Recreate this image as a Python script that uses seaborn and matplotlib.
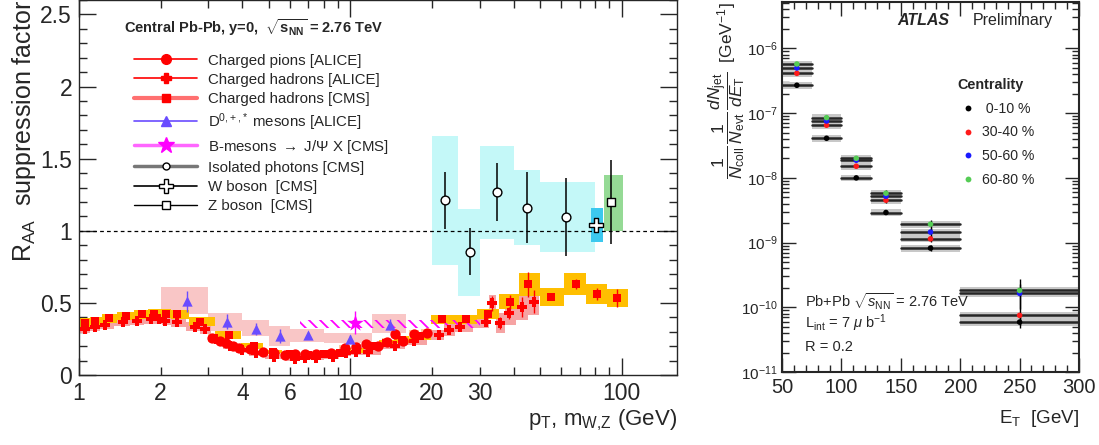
import numpy as np
import pandas as pd
import matplotlib
matplotlib.use("Agg")
import matplotlib.pyplot as plt
from matplotlib.lines import Line2D
from matplotlib.ticker import FixedLocator, FuncFormatter, MultipleLocator, LogLocator, NullFormatter
import seaborn as sns

# ---------------- left panel data (R_AA vs pT) ----------------
pion_pt = [3.09, 3.30, 3.47, 3.69, 3.90, 4.26, 4.76, 5.25, 5.76, 6.25, 6.79, 7.5, 8.5,
           9.55, 10.5, 11.45, 12.6, 13.6, 14.6, 15.6, 17.1, 19.1]
pion_raa = [0.258, 0.237, 0.219, 0.201, 0.185, 0.178, 0.157, 0.150, 0.141, 0.143, 0.148, 0.148, 0.150,
            0.187, 0.192, 0.217, 0.201, 0.231, 0.284, 0.236, 0.282, 0.289]

alice_pt = [1.05, 1.15, 1.25, 1.45, 1.64, 1.85, 1.97, 2.08, 2.29, 2.68, 2.92, 3.2, 3.6, 4.0, 4.5,
            5.25, 6.27, 6.8, 7.5, 8.6, 9.6, 10.5, 11.6, 14.6, 17.2, 21.2, 23.2, 25.3, 31.5, 33.4,
            35.5, 38.6, 43.1, 47.4]
alice_raa = [0.319, 0.335, 0.346, 0.367, 0.374, 0.386, 0.386, 0.376, 0.365, 0.335, 0.316, 0.25, 0.20,
             0.17, 0.15, 0.123, 0.113, 0.12, 0.12, 0.125, 0.15, 0.16, 0.161, 0.203, 0.236, 0.275,
             0.312, 0.335, 0.369, 0.497, 0.362, 0.43, 0.473, 0.508]
alice_sys = [0.03, 0.03, 0.03, 0.03, 0.03, 0.03, 0.03, 0.03, 0.03, 0.03, 0.03, 0.025, 0.02, 0.02,
             0.02, 0.015, 0.015, 0.015, 0.015, 0.015, 0.02, 0.02, 0.02, 0.025, 0.03, 0.035, 0.04,
             0.04, 0.045, 0.06, 0.07, 0.08, 0.09, 0.09]
alice_err = [0, 0, 0, 0, 0, 0, 0, 0, 0, 0, 0, 0, 0, 0, 0, 0, 0, 0, 0, 0, 0, 0, 0.01, 0.015, 0.015,
             0.02, 0.02, 0.02, 0.03, 0.05, 0.04, 0.04, 0.07, 0.08]

cms_pt = [1.05, 1.15, 1.29, 1.49, 1.70, 1.89, 2.09, 2.30, 2.80, 3.57, 4.4, 5.2, 6.0, 7.0, 8.0, 9.2,
          10.5, 12.0, 13.5, 15.5, 18.0, 21.8, 26.6, 32.2, 38.7, 45.2, 55.0, 68.0, 81.0, 96.4]
cms_raa = [0.362, 0.374, 0.393, 0.409, 0.420, 0.425, 0.425, 0.420, 0.370, 0.277, 0.20, 0.16, 0.145,
           0.14, 0.145, 0.155, 0.17, 0.20, 0.22, 0.245, 0.27, 0.386, 0.386, 0.423, 0.508, 0.629,
           0.541, 0.629, 0.561, 0.534]
cms_sys = [0.03, 0.03, 0.03, 0.03, 0.03, 0.03, 0.03, 0.03, 0.03, 0.025, 0.02, 0.015, 0.015, 0.015,
           0.015, 0.015, 0.02, 0.02, 0.02, 0.025, 0.025, 0.03, 0.03, 0.035, 0.052, 0.078, 0.061,
           0.075, 0.069, 0.064]
cms_err = [0, 0, 0, 0, 0, 0, 0, 0, 0, 0, 0, 0, 0, 0, 0, 0, 0, 0, 0, 0, 0, 0.015, 0.02, 0.03, 0.05,
           0.087, 0.02, 0.035, 0.04, 0.065]

d_pt = [2.5, 3.5, 4.5, 5.5, 7.0, 10.0, 14.0]
d_edges = [2, 3, 4, 5, 6, 8, 12, 16]
d_raa = [0.51, 0.37, 0.32, 0.27, 0.28, 0.25, 0.35]
d_err = [0.07, 0.05, 0.04, 0.05, 0.02, 0.03, 0.04]
d_sys_lo = [0.42, 0.305, 0.27, 0.20, 0.23, 0.22, 0.29]
d_sys_hi = [0.61, 0.43, 0.38, 0.34, 0.32, 0.29, 0.42]

b_pt = [10.4]
b_raa = [0.362]
b_err = [0.08]
b_band = [6.5, 30.0, 0.324, 0.381]

gam_pt = [22.4, 27.5, 34.7, 44.9, 62.5]
gam_edges = [20, 25, 30, 40, 50, 80]
gam_raa = [1.21, 0.855, 1.27, 1.16, 1.095]
gam_err = [0.20, 0.165, 0.20, 0.245, 0.27]
gam_sys_lo = [0.76, 0.55, 0.945, 0.90, 0.85]
gam_sys_hi = [1.66, 1.15, 1.59, 1.42, 1.34]

w_m, w_raa, w_err, w_box = 80.4, 1.04, 0.05, [77.0, 85.5, 0.92, 1.16]
z_m, z_raa, z_err, z_box = 91.2, 1.20, 0.29, [86.0, 101.0, 1.0, 1.39]

# ---------------- right panel data (ATLAS jet yields) ----------------
et_lo = [50, 75, 100, 125, 150, 200]
et_hi = [75, 100, 125, 150, 200, 300]
et_mid = [62.5, 87.5, 112.5, 137.5, 175, 250]
cent_labels = ["0-10 %", "30-40 %", "50-60 %", "60-80 %"]
yield_0_10 = [2.69e-7, 4.08e-8, 9.97e-9, 2.91e-9, 8.2e-10, 5.9e-11]
yield_30_40 = [4.11e-7, 6.49e-8, 1.51e-8, 4.51e-9, 1.14e-9, 7.5e-11]
yield_50_60 = [4.97e-7, 7.55e-8, 1.87e-8, 5.2e-9, 1.45e-9, 1.64e-10]
yield_60_80 = [5.73e-7, 8.5e-8, 2.0e-8, 5.78e-9, 1.92e-9, 1.82e-10]
relerr_0_10 = [0.02, 0.03, 0.04, 0.06, 0.1, 0.18]
relerr_30_40 = [0.02, 0.04, 0.05, 0.08, 0.12, 0.3]
relerr_50_60 = [0.03, 0.05, 0.07, 0.1, 0.15, 0.4]
relerr_60_80 = [0.03, 0.05, 0.08, 0.12, 0.18, 0.48]
cent_colors = {"0-10 %": "black", "30-40 %": "#ff1a1a", "50-60 %": "#1a1aff", "60-80 %": "#55cc55"}

# ---------------- style ----------------
sns.set_style("ticks")
plt.rcParams['font.family'] = ['Liberation Sans', 'DejaVu Sans']
plt.rcParams['mathtext.fontset'] = 'custom'
plt.rcParams['mathtext.rm'] = 'Liberation Sans'
plt.rcParams['mathtext.it'] = 'Liberation Sans:italic'
plt.rcParams['mathtext.bf'] = 'Liberation Sans:bold'
plt.rcParams['mathtext.sf'] = 'Liberation Sans'
plt.rcParams['hatch.linewidth'] = 1.3


def log_edges(pt, shrink=1.0):
    lp = np.log10(pt)
    mid = (lp[1:] + lp[:-1]) / 2
    lo = np.concatenate([[lp[0] - (mid[0] - lp[0])], mid])
    hi = np.concatenate([mid, [lp[-1] + (lp[-1] - mid[-1])]])
    c = (lo + hi) / 2
    return 10 ** (c - (c - lo) * shrink), 10 ** (c + (hi - c) * shrink)


def boxes(ax, lo, hi, ylo, yhi, color, **kw):
    lo, hi, ylo, yhi = map(np.asarray, (lo, hi, ylo, yhi))
    ax.bar(lo, yhi - ylo, width=hi - lo, bottom=ylo, align='edge', color=color, lw=0, **kw)


fig = plt.figure(figsize=(10.99, 4.45), dpi=100)
ax = fig.add_axes([79 / 1099, 70 / 445, 598 / 1099, 375 / 445])
ax2 = fig.add_axes([782 / 1099, 73 / 445, 297 / 1099, 370 / 445])

# ======== left panel ========
ax.set_xscale('log')
ax.set_xlim(1, 160)
ax.set_ylim(0, 2.6)

# systematic boxes
boxes(ax, d_edges[:-1], d_edges[1:], d_sys_lo, d_sys_hi, '#f9c6c6', zorder=1)
lo, hi = log_edges(alice_pt)
boxes(ax, lo, hi, np.array(alice_raa) - alice_sys, np.array(alice_raa) + alice_sys, '#f6a3a3', zorder=1.2)
lo, hi = log_edges(cms_pt)
boxes(ax, lo, hi, np.array(cms_raa) - cms_sys, np.array(cms_raa) + cms_sys, '#ffbf00', zorder=1.4)
lo, hi = log_edges(pion_pt, 0.9)
boxes(ax, lo, hi, np.array(pion_raa) * 0.9, np.array(pion_raa) * 1.1, '#ffc8a0', zorder=1.6)
ax.bar(b_band[0], b_band[3] - b_band[2], width=b_band[1] - b_band[0], bottom=b_band[2], align='edge',
       fill=False, hatch='\\\\\\', edgecolor='#ff00ff', lw=0, zorder=1.7)
boxes(ax, gam_edges[:-1], gam_edges[1:], gam_sys_lo, gam_sys_hi, '#c4f8f8', zorder=1.8)
boxes(ax, [w_box[0]], [w_box[1]], [w_box[2]], [w_box[3]], '#3cc8ee', zorder=1.9)
boxes(ax, [z_box[0]], [z_box[1]], [z_box[2]], [z_box[3]], '#95da95', zorder=1.9)

ax.axhline(1, color='black', ls=(0, (3, 2.5)), lw=0.9, zorder=2)

# error bars
ax.errorbar(alice_pt, alice_raa, yerr=alice_err, fmt='none', ecolor='red', elinewidth=1, zorder=3)
ax.errorbar(cms_pt, cms_raa, yerr=cms_err, fmt='none', ecolor='red', elinewidth=1, zorder=3)
ax.errorbar(d_pt, d_raa, yerr=d_err, fmt='none', ecolor='#6a4cff', elinewidth=1, zorder=3)
ax.errorbar(b_pt, b_raa, yerr=b_err, fmt='none', ecolor='#ff00ff', elinewidth=1, zorder=3)
ax.errorbar(gam_pt, gam_raa, yerr=gam_err, fmt='none', ecolor='black', elinewidth=1.1, zorder=3)
ax.errorbar([w_m], [w_raa], yerr=[w_err], fmt='none', ecolor='black', elinewidth=1.1, zorder=3)
ax.errorbar([z_m], [z_raa], yerr=[z_err], fmt='none', ecolor='black', elinewidth=1.1, zorder=3)

# markers
sns.scatterplot(x=alice_pt, y=alice_raa, marker='P', s=45, color='red', edgecolor='red', lw=0, ax=ax, zorder=4)
sns.scatterplot(x=cms_pt, y=cms_raa, marker='s', s=36, color='red', edgecolor='red', lw=0, ax=ax, zorder=4)
sns.scatterplot(x=pion_pt, y=pion_raa, marker='o', s=55, color='red', edgecolor='red', lw=0, ax=ax, zorder=5)
sns.scatterplot(x=d_pt, y=d_raa, marker='^', s=55, color='#6a4cff', edgecolor='#6a4cff', lw=0, ax=ax, zorder=5)
sns.scatterplot(x=b_pt, y=b_raa, marker='*', s=160, color='#ff00ff', edgecolor='#ff00ff', lw=0, ax=ax, zorder=5)
sns.scatterplot(x=gam_pt, y=gam_raa, marker='o', s=40, color='white', edgecolor='black', lw=1, ax=ax, zorder=5)
sns.scatterplot(x=[w_m], y=[w_raa], marker='P', s=110, color='white', edgecolor='black', lw=1, ax=ax, zorder=5)
sns.scatterplot(x=[z_m], y=[z_raa], marker='s', s=40, color='white', edgecolor='black', lw=1, ax=ax, zorder=5)

# axes cosmetics
ax.xaxis.set_major_locator(FixedLocator([1, 10, 100]))
ax.xaxis.set_minor_locator(FixedLocator([2, 3, 4, 5, 6, 7, 8, 9, 20, 30, 40, 50, 60, 70, 80, 90]))
ax.xaxis.set_major_formatter(FuncFormatter(lambda v, p: '%g' % v))
ax.xaxis.set_minor_formatter(FuncFormatter(lambda v, p: '%g' % v if v in (2, 4, 6, 20, 30) else ''))
ax.yaxis.set_major_locator(MultipleLocator(0.5))
ax.yaxis.set_minor_locator(MultipleLocator(0.1))
ax.yaxis.set_major_formatter(FuncFormatter(lambda v, p: '%g' % v))
ax.tick_params(which='both', direction='in', top=True, right=True, labelsize=16.5, pad=5)
ax.tick_params(axis='y', which='major', length=12, width=1)
ax.tick_params(axis='y', which='minor', length=6, width=1)
ax.tick_params(axis='x', which='major', length=12, width=1)
ax.tick_params(axis='x', which='minor', length=6, width=1)
for s in ax.spines.values():
    s.set_linewidth(1.0)
ax.set_ylabel(r"R$_{\rm AA}$  suppression factor", fontsize=18, loc='top')
ax.yaxis.set_label_coords(-0.068, 1.0)
ax.set_xlabel(r"p$_{\rm T}$, m$_{\rm W{,}Z}$ (GeV)", fontsize=16, loc='right', labelpad=2)

ax.text(0.075, 0.925, r"Central Pb-Pb, y=0,  $\mathbf{\sqrt{s_{NN}}}$ = 2.76 TeV", transform=ax.transAxes,
        fontsize=10.5, fontweight='bold', va='center', ha='left')

handles = [
    Line2D([], [], color='red', lw=1.2, marker='o', ms=7, mec='red'),
    Line2D([], [], color='red', lw=1.2, marker='P', ms=7, mec='red'),
    Line2D([], [], color='#ff7070', lw=3, marker='s', ms=6, mfc='red', mec='red'),
    Line2D([], [], color='#6a4cff', lw=1.2, marker='^', ms=7, mec='#6a4cff'),
    Line2D([], [], color='#ff66ff', lw=2.5, marker='*', ms=12, mfc='#ff00ff', mec='#ff00ff'),
    Line2D([], [], color='#777777', lw=2.5, marker='o', ms=5, mfc='white', mec='black'),
    Line2D([], [], color='black', lw=1.2, marker='P', ms=10, mfc='white', mec='black'),
    Line2D([], [], color='black', lw=1.0, marker='s', ms=5.5, mfc='white', mec='black'),
]
labels = ["Charged pions [ALICE]", "Charged hadrons [ALICE]", "Charged hadrons [CMS]",
          r"D$^{0{,}+{,}*}$ mesons [ALICE]", r"B-mesons $\rightarrow$ J/$\Psi$ X [CMS]",
          "Isolated photons [CMS]", "W boson  [CMS]", "Z boson  [CMS]"]
ax.legend(handles, labels, loc='upper left', bbox_to_anchor=(0.092, 0.857), frameon=False,
          fontsize=10.8, handlelength=4.2, handletextpad=0.75, labelspacing=0.34,
          borderpad=0, borderaxespad=0, numpoints=1)

# ======== right panel ========
rows = []
for lab, ys, es in zip(cent_labels, [yield_0_10, yield_30_40, yield_50_60, yield_60_80],
                       [relerr_0_10, relerr_30_40, relerr_50_60, relerr_60_80]):
    for lo_, hi_, m_, y_, e_ in zip(et_lo, et_hi, et_mid, ys, es):
        rows.append({'lo': lo_, 'hi': hi_, 'et': m_, 'y': y_, 'err': e_, 'cent': lab})
df = pd.DataFrame(rows)

ax2.set_xlim(50, 300)
ax2.set_yscale('log')
ax2.set_ylim(1e-11, 5.2e-6)
for _, r in df.iterrows():
    ax2.bar(r['lo'], r['y'] * 0.24, width=r['hi'] - r['lo'], bottom=r['y'] * 0.88, align='edge',
            color='#c8c8c8', lw=0, zorder=1)
for _, r in df.iterrows():
    ax2.plot([r['lo'], r['hi']], [r['y'], r['y']], color='#262626', lw=1.8, zorder=2)
ax2.errorbar(df['et'], df['y'], yerr=df['y'] * df['err'], fmt='none', ecolor='black', elinewidth=1, zorder=3)
sns.scatterplot(data=df, x='et', y='y', hue='cent', palette=cent_colors, s=16, edgecolor='none',
                legend=False, ax=ax2, zorder=4)

ax2.xaxis.set_major_locator(MultipleLocator(50))
ax2.xaxis.set_minor_locator(MultipleLocator(10))
ax2.yaxis.set_major_locator(FixedLocator([1e-11, 1e-10, 1e-9, 1e-8, 1e-7, 1e-6]))
ax2.yaxis.set_minor_locator(FixedLocator([m * 10.0 ** e for e in range(-11, -5) for m in range(2, 10)
                                          if m * 10.0 ** e < 5.2e-6]))
ax2.yaxis.set_major_formatter(FuncFormatter(lambda v, p: r'$10^{%d}$' % round(np.log10(v))))
ax2.yaxis.set_minor_formatter(NullFormatter())
ax2.tick_params(which='both', direction='in', top=True, right=True)
ax2.tick_params(axis='x', which='major', length=10, width=1, labelsize=14.5, pad=4)
ax2.tick_params(axis='x', which='minor', length=5, width=1)
ax2.tick_params(axis='y', which='major', length=10, width=1, labelsize=11, pad=3)
ax2.tick_params(axis='y', which='minor', length=5, width=1)
for s in ax2.spines.values():
    s.set_linewidth(1.5)
ax2.set_xlabel(r"E$_{\rm T}$  [GeV]", fontsize=13.5, loc='right', labelpad=8)
ax2.set_ylabel(r"$\dfrac{1}{N_{\rm coll}}\,\dfrac{1}{N_{\rm evt}}\,\dfrac{dN_{\rm jet}}{dE_{\rm T}}$  [GeV$^{-1}$]",
               fontsize=12.5, loc='top')
ax2.yaxis.set_label_coords(-0.118, 1.0)

ax2.text(0.388, 0.951, "ATLAS", transform=ax2.transAxes, fontsize=11.5, fontweight='bold',
         style='italic', va='center')
ax2.text(0.642, 0.951, "Preliminary", transform=ax2.transAxes, fontsize=11.5, va='center')
ax2.text(0.077, 0.19, r"Pb+Pb $\sqrt{s_{\rm NN}}$ = 2.76 TeV", transform=ax2.transAxes, fontsize=10.5, va='center')
ax2.text(0.077, 0.132, r"L$_{\rm int}$ = 7 $\mu$ b$^{-1}$", transform=ax2.transAxes, fontsize=10.5, va='center')
ax2.text(0.077, 0.068, "R = 0.2", transform=ax2.transAxes, fontsize=10.5, va='center')

chandles = [Line2D([], [], ls='', marker='o', ms=4.2, color=cent_colors[c], mec='none') for c in cent_labels]
leg = ax2.legend(chandles, [" 0-10 %", "30-40 %", "50-60 %", "60-80 %"], title="Centrality",
                 loc='upper left', bbox_to_anchor=(0.59, 0.794), frameon=False, fontsize=10.2,
                 title_fontproperties={'weight': 'bold', 'size': 10.4}, alignment='left',
                 handlelength=1.55, handletextpad=0.2, labelspacing=0.68, borderpad=0, borderaxespad=0)

fig.savefig('out.png', dpi=100)
